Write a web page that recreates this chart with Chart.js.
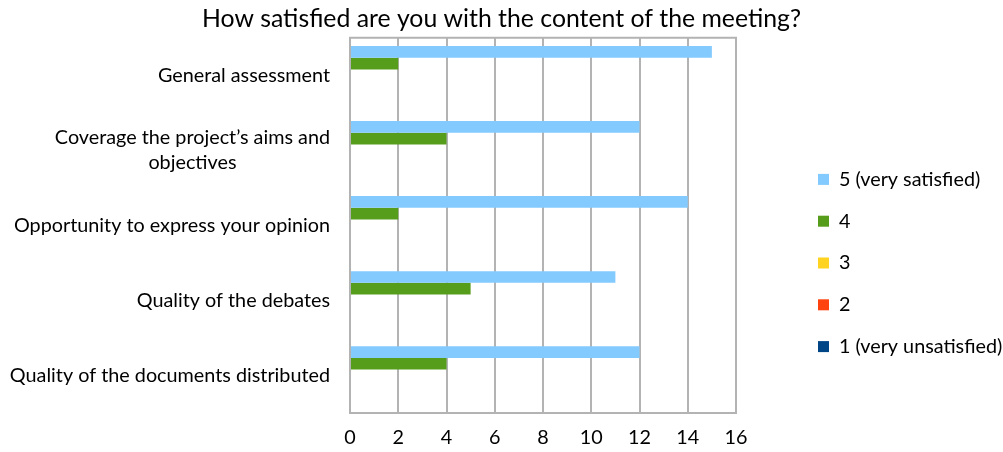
<!DOCTYPE html>
<html>
<head>
<meta charset="utf-8">
<script src="https://cdn.jsdelivr.net/npm/chart.js@4.4.1/dist/chart.umd.min.js"></script>
<style>
  html, body { margin: 0; padding: 0; background: #ffffff; }
  #wrap { width: 1003px; height: 452px; position: relative; }
</style>
</head>
<body>
<div id="wrap"><canvas id="c" width="1003" height="452"></canvas></div>
<script>
// Survey questions (one bar group per question)
const categories = [
  "General assessment",
  ["Coverage the project\u2019s aims and", "objectives"],
  "Opportunity to express your opinion",
  "Quality of the debates",
  "Quality of the documents distributed"
];

// Number of answers per satisfaction level
const seriesNames = ["5 (very satisfied)", "4", "3", "2", "1 (very unsatisfied)"];
const level5 = [15, 12, 14, 11, 12];
const level4 = [2, 4, 2, 5, 4];
const level3 = [0, 0, 0, 0, 0];
const level2 = [0, 0, 0, 0, 0];
const level1 = [0, 0, 0, 0, 0];

const xTicks = [0, 2, 4, 6, 8, 10, 12, 14, 16];

const seriesColors = ["#83caff", "#579d1c", "#ffd320", "#ff420e", "#004586"];
const seriesValues = [level5, level4, level3, level2, level1];

const FONT = "Lato, 'Open Sans', sans-serif";
const TICK_SIZE = 19.8;

// Frame around the plotting area
const frame = {
  id: "frame",
  afterDatasetsDraw(chart) {
    const { ctx, chartArea: a } = chart;
    ctx.save();
    ctx.strokeStyle = "#b3b3b3";
    ctx.lineWidth = 2;
    ctx.strokeRect(a.left, a.top, a.right - a.left, a.bottom - a.top);
    ctx.restore();
  }
};

// Category labels: block right-aligned to the axis, lines centred within the block
const categoryLabels = {
  id: "categoryLabels",
  afterDraw(chart) {
    const { ctx } = chart;
    const y = chart.scales.y;
    ctx.save();
    ctx.font = TICK_SIZE + "px " + FONT;
    ctx.fillStyle = "#000000";
    ctx.textBaseline = "middle";
    ctx.textAlign = "center";
    const right = y.right - 20;
    const lineH = 25;
    categories.forEach((lab, i) => {
      const lines = Array.isArray(lab) ? lab : [lab];
      const w = Math.max(...lines.map(l => ctx.measureText(l).width));
      const cx = right - w / 2;
      const cy = y.getPixelForValue(i);
      const y0 = cy - (lines.length - 1) * lineH / 2;
      lines.forEach((l, k) => ctx.fillText(l, cx, y0 + k * lineH));
    });
    ctx.restore();
  }
};

new Chart(document.getElementById("c"), {
  type: "bar",
  data: {
    labels: categories,
    datasets: seriesNames.map((name, i) => ({
      label: name,
      data: seriesValues[i],
      backgroundColor: seriesColors[i],
      borderWidth: 0,
      categoryPercentage: 0.78,
      barPercentage: 1.0
    }))
  },
  options: {
    indexAxis: "y",
    responsive: false,
    animation: false,
    layout: { padding: 0 },
    scales: {
      x: {
        min: 0,
        max: 16,
        afterBuildTicks(scale) { scale.ticks = xTicks.map(v => ({ value: v })); },
        afterFit(scale) { scale.height = 39; },
        grid: { color: "#b3b3b3", lineWidth: 2, drawTicks: false },
        border: { display: false },
        ticks: {
          color: "#000000",
          padding: 13,
          font: { family: FONT, size: TICK_SIZE }
        }
      },
      y: {
        afterFit(scale) { scale.width = 350; },
        grid: { display: false },
        border: { display: false },
        ticks: { display: false }
      },
      gap: {
        type: "category",
        position: "right",
        afterFit(scale) { scale.width = 60; },
        grid: { display: false },
        border: { display: false },
        ticks: { display: false }
      }
    },
    plugins: {
      title: {
        display: true,
        text: "How satisfied are you with the content of the meeting?",
        color: "#000000",
        font: { family: FONT, size: 24.8, weight: "normal" },
        padding: { top: 4, bottom: 4 }
      },
      legend: {
        position: "right",
        maxWidth: 207,
        title: {
          display: true,
          text: " ",
          font: { family: FONT, size: 14, lineHeight: 1 },
          padding: { top: 60, bottom: 0 }
        },
        labels: {
          color: "#000000",
          boxWidth: 11,
          boxHeight: 11,
          padding: 22,
          font: { family: FONT, size: TICK_SIZE }
        }
      },
      tooltip: { enabled: false }
    }
  },
  plugins: [frame, categoryLabels]
});
</script>
</body>
</html>
